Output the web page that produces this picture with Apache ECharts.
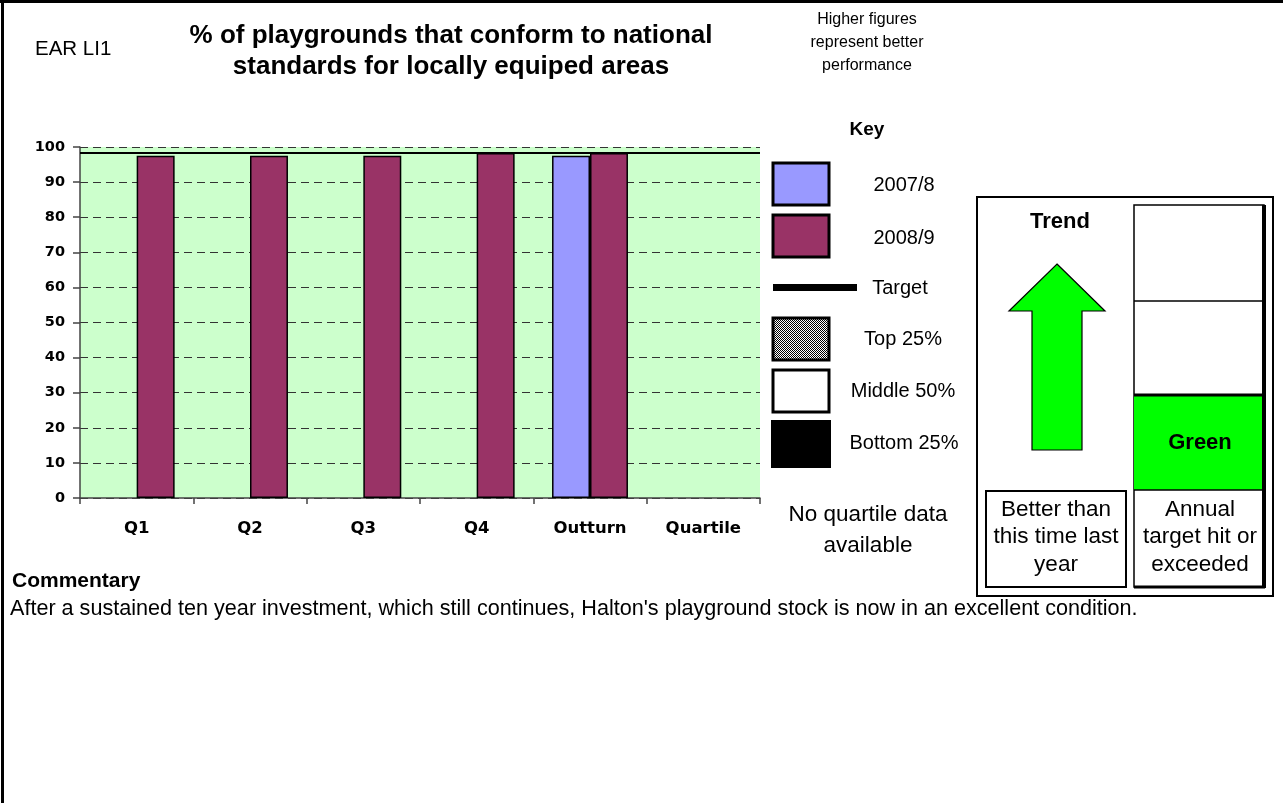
<!DOCTYPE html>
<html>
<head>
<meta charset="utf-8">
<script src="https://cdn.jsdelivr.net/npm/echarts@6/dist/echarts.min.js"></script>
<style>
html,body{margin:0;padding:0;background:#fff;}
#chart{width:1283px;height:803px;}
</style>
</head>
<body>
<div id="chart"></div>
<script>
// ---- data ----
var categories = ['Q1', 'Q2', 'Q3', 'Q4', 'Outturn', 'Quartile'];
var values2007 = [null, null, null, null, 97.5, null];
var values2008 = [97.5, 97.5, 97.5, 98.3, 98.3, null];
var targetValue = 98.5;
var yTicks = {min: 0, max: 100, interval: 10};
var legendLabels = ['2007/8', '2008/9', 'Target', 'Top 25%', 'Middle 50%', 'Bottom 25%'];

// ---- helpers ----
var REG = 'Liberation Sans, Arial, sans-serif';
var AXF = 'DejaVu Sans, Liberation Sans, sans-serif';
function txt(x, y, text, size, bold, align, lh) {
  return {
    type: 'text', x: x, y: y, silent: true,
    style: {
      text: text,
      font: (bold ? 'bold ' : '') + size + 'px ' + REG,
      fill: '#000',
      align: align || 'center',
      verticalAlign: 'middle',
      lineHeight: lh || Math.round(size * 1.2)
    }
  };
}
function rect(x, y, w, h, fill, stroke, lw) {
  return {type: 'rect', silent: true, shape: {x: x, y: y, width: w, height: h},
    style: {fill: fill, stroke: stroke || null, lineWidth: lw || 0}};
}
function line(x1, y1, x2, y2, lw, color) {
  return {type: 'line', silent: true, shape: {x1: x1, y1: y1, x2: x2, y2: y2},
    style: {stroke: color || '#000', lineWidth: lw}};
}

// checker pattern for Top 25%
var pc = document.createElement('canvas');
pc.width = 2; pc.height = 2;
var pctx = pc.getContext('2d');
pctx.fillStyle = '#fff'; pctx.fillRect(0, 0, 2, 2);
pctx.fillStyle = '#000'; pctx.fillRect(0, 0, 1, 1); pctx.fillRect(1, 1, 1, 1);

var graphics = [
  // page border (top + left)
  rect(0, 0, 1283, 3, '#000'),
  rect(1, 0, 3, 803, '#000'),
  // header texts
  txt(35, 49, 'EAR LI1', 20.5, false, 'left'),
  txt(451, 36, '% of playgrounds that conform to national', 26, true),
  txt(451, 67, 'standards for locally equiped areas', 26, true),
  txt(867, 20, 'Higher figures', 16),
  txt(867, 43, 'represent better', 16),
  txt(867, 66, 'performance', 16),
  txt(867, 130, 'Key', 19, true),
  // legend
  rect(773, 163, 56, 42, '#9999FF', '#000', 3),
  rect(773, 215, 56, 42, '#993366', '#000', 3),
  rect(773, 284, 84, 7, '#000'),
  rect(773, 318, 56, 42, {image: pc, repeat: 'repeat'}, '#000', 3),
  rect(773, 370, 56, 42, '#fff', '#000', 3),
  rect(771, 420, 60, 48, '#000'),
  txt(904, 185, legendLabels[0], 20),
  txt(904, 238, legendLabels[1], 20),
  txt(900, 288, legendLabels[2], 20),
  txt(903, 339, legendLabels[3], 20),
  txt(903, 391, legendLabels[4], 20),
  txt(904, 443, legendLabels[5], 20),
  txt(868, 515, 'No quartile data', 22.5),
  txt(868, 546, 'available', 22.5),
  // right panel
  rect(977, 197, 296, 399, '#fff', '#000', 2),
  txt(1060, 222, 'Trend', 22, true),
  {type: 'polygon', silent: true,
    shape: {points: [[1057, 264], [1105, 311], [1082, 311], [1082, 450], [1032, 450], [1032, 311], [1009, 311]]},
    style: {fill: '#00FF00', stroke: '#000', lineWidth: 1.2}},
  rect(986, 491, 140, 96, '#fff', '#000', 2),
  txt(1056, 510, 'Better than', 22.5),
  txt(1056, 537, 'this time last', 22.5),
  txt(1056, 565, 'year', 22.5),
  rect(1134, 205, 130, 382, '#fff', '#000', 1.5),
  rect(1134, 395, 130, 95, '#00FF00'),
  line(1134, 301, 1264, 301, 1.5),
  line(1134, 395, 1264, 395, 3),
  line(1134, 490, 1264, 490, 1.5),
  line(1264, 205, 1264, 588, 4),
  line(1134, 587, 1265, 587, 3),
  txt(1200, 443, 'Green', 22, true),
  txt(1200, 510, 'Annual', 22.5),
  txt(1200, 537, 'target hit or', 22.5),
  txt(1200, 565, 'exceeded', 22.5),
  // commentary
  txt(12, 581, 'Commentary', 21, true, 'left'),
  txt(10, 609, "After a sustained ten year investment, which still continues, Halton's playground stock is now in an excellent condition.", 21.6, false, 'left')
];

var chart = echarts.init(document.getElementById('chart'), null, {renderer: 'canvas'});
chart.setOption({
  animation: false,
  backgroundColor: '#fff',
  grid: {left: 80, top: 147, width: 680, height: 351, show: true, backgroundColor: '#CCFFCC', borderWidth: 0, containLabel: false},
  xAxis: {
    type: 'category', data: categories, boundaryGap: true,
    axisLine: {show: true, lineStyle: {color: '#444', width: 1.5}},
    axisTick: {show: true, length: 6, lineStyle: {color: '#444', width: 1.5}},
    axisLabel: {color: '#000', fontFamily: AXF, fontWeight: 'bold', fontSize: 16.5, margin: 22},
    splitLine: {show: false}
  },
  yAxis: {
    type: 'value', min: yTicks.min, max: yTicks.max, interval: yTicks.interval,
    axisLine: {show: true, lineStyle: {color: '#444', width: 1.5}},
    axisTick: {show: true, length: 7, lineStyle: {color: '#444', width: 1.5}},
    axisLabel: {color: '#000', fontFamily: AXF, fontWeight: 'bold', fontSize: 14.5, margin: 15},
    splitLine: {show: true, lineStyle: {color: '#333', width: 1, type: [8, 5]}}
  },
  series: [
    {name: '2007/8', type: 'bar', data: values2007, barGap: '0%', barCategoryGap: '33%',
      itemStyle: {color: '#9999FF', borderColor: '#000', borderWidth: 1.5}},
    {name: '2008/9', type: 'bar', data: values2008, barGap: '0%', barCategoryGap: '33%',
      itemStyle: {color: '#993366', borderColor: '#000', borderWidth: 1.5},
      markLine: {silent: true, symbol: 'none', label: {show: false},
        lineStyle: {color: '#000', width: 2, type: 'solid'},
        data: [{yAxis: targetValue}]}}
  ],
  graphic: graphics
});
</script>
</body>
</html>
